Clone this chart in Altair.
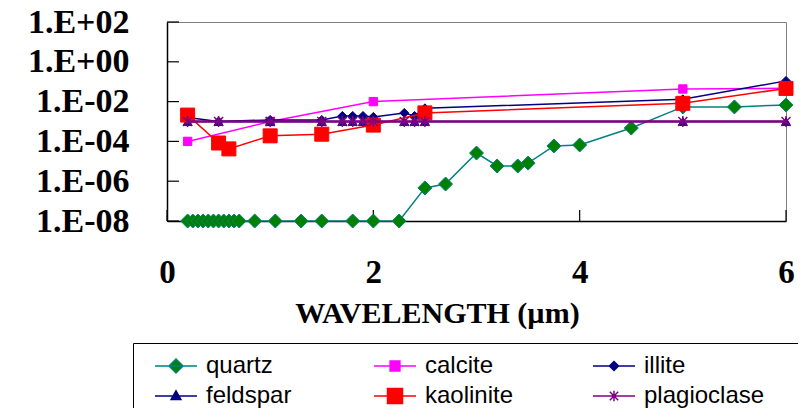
import altair as alt
import pandas as pd

series_names = ["quartz", "calcite", "illite", "feldspar", "kaolinite", "plagioclase"]
# legend fills column by column: column 1 = quartz/feldspar, 2 = calcite/kaolinite, 3 = illite/plagioclase
legend_order = ["quartz", "feldspar", "calcite", "kaolinite", "illite", "plagioclase"]

quartz_x = [0.2, 0.25, 0.3, 0.35, 0.4, 0.45, 0.5, 0.55, 0.6, 0.65, 0.7, 0.85, 1.05, 1.3, 1.5,
            1.8, 2.0, 2.25, 2.5, 2.7, 3.0, 3.2, 3.4, 3.5, 3.75, 4.0, 4.5, 5.0, 5.5, 6.0]
quartz_y = [1e-8, 1e-8, 1e-8, 1e-8, 1e-8, 1e-8, 1e-8, 1e-8, 1e-8, 1e-8, 1e-8, 1e-8, 1e-8, 1e-8, 1e-8,
            1e-8, 1e-8, 1e-8, 4.6e-7, 7.2e-7, 2.6e-5, 5.8e-6, 5.8e-6, 8.1e-6, 5.9e-5, 6.6e-5, 4.7e-4,
            5.4e-3, 5.4e-3, 6.8e-3]

calcite_x = [0.2, 1.0, 2.0, 5.0, 6.0]
calcite_y = [1.0e-4, 1.0e-3, 1.0e-2, 4.3e-2, 4.7e-2]

illite_x = [0.2, 0.5, 1.0, 1.5, 1.7, 1.8, 1.9, 2.0, 2.3, 2.4, 2.5, 5.0, 6.0]
illite_y = [1.6e-3, 1.0e-3, 1.2e-3, 1.2e-3, 1.9e-3, 1.9e-3, 1.9e-3, 1.7e-3, 2.7e-3, 1.9e-3, 4.6e-3,
            1.3e-2, 1.1e-1]

feldspar_x = [0.2, 0.5, 1.0, 1.5, 1.7, 1.8, 1.9, 2.0, 2.3, 2.4, 2.5, 5.0, 6.0]
feldspar_y = [1e-3, 1e-3, 1e-3, 1e-3, 1e-3, 1e-3, 1e-3, 1e-3, 1e-3, 1e-3, 1e-3, 1e-3, 1e-3]

kaolinite_x = [0.2, 0.5, 0.6, 1.0, 1.5, 2.0, 2.5, 5.0, 6.0]
kaolinite_y = [2.1e-3, 8.3e-5, 4.2e-5, 1.9e-4, 2.3e-4, 6.6e-4, 2.7e-3, 8.2e-3, 4.6e-2]

plagioclase_x = [0.2, 0.5, 1.0, 1.5, 1.7, 1.8, 1.9, 2.0, 2.3, 2.4, 2.5, 5.0, 6.0]
plagioclase_y = [1e-3, 1e-3, 1e-3, 1e-3, 1e-3, 1e-3, 1e-3, 1e-3, 1e-3, 1e-3, 1e-3, 1e-3, 1e-3]

x_ticks = [0, 2, 4, 6]
y_ticks = [1e-8, 1e-6, 1e-4, 1e-2, 1e0, 1e2]

all_x = [quartz_x, calcite_x, illite_x, feldspar_x, kaolinite_x, plagioclase_x]
all_y = [quartz_y, calcite_y, illite_y, feldspar_y, kaolinite_y, plagioclase_y]
rows = []
for name, xs, ys in zip(series_names, all_x, all_y):
    for a, b in zip(xs, ys):
        rows.append({"series": name, "x": a, "y": b})
df = pd.DataFrame(rows)

# styles
line_color = {"quartz": "#008080", "calcite": "#FF00FF", "illite": "#000080",
              "feldspar": "#000080", "kaolinite": "#FF0000", "plagioclase": "#800080"}
fill_color = {"quartz": "#008000", "calcite": "#FF00FF", "illite": "#000080",
              "feldspar": "#000080", "kaolinite": "#FF0000", "plagioclase": "transparent"}
line_width = {"quartz": 1.5, "calcite": 1.5, "illite": 1.5, "feldspar": 1.5,
              "kaolinite": 1.5, "plagioclase": 2.5}
marker_shape = {"quartz": "diamond", "calcite": "square", "illite": "diamond",
                "feldspar": "triangle-up", "kaolinite": "square",
                "plagioclase": "M-1,-1L1,1M-1,1L1,-1M0,-1.2V1.2"}
marker_size = {"quartz": 196, "calcite": 70, "illite": 81, "feldspar": 80,
               "kaolinite": 196, "plagioclase": 81}
# legend glyph: short line + marker; the trailing move-to only reserves entry width
entry_reserve = "M25,0"
legend_shape = {
    "quartz": "M-3,0H3M0,-1L1,0L0,1L-1,0Z" + entry_reserve,
    "calcite": "M-3,0H3M-0.7,-0.7H0.7V0.7H-0.7Z" + entry_reserve,
    "illite": "M-3,0H3M0,-0.65L0.65,0L0,0.65L-0.65,0Z" + entry_reserve,
    "feldspar": "M-3,0H3M0,-0.75L0.7,0.5L-0.7,0.5Z" + entry_reserve,
    "kaolinite": "M-3,0H3M-1.07,-1.07H1.07V1.07H-1.07Z" + entry_reserve,
    "plagioclase": "M-3,0H3M-0.6,-0.6L0.6,0.6M-0.6,0.6L0.6,-0.6M0,-0.75V0.75" + entry_reserve,
}

serif = "Liberation Serif"
exp_expr = "round(log(datum.value)/LN10)"
y_label_expr = ("'1.E' + (" + exp_expr + " >= 0 ? '+' : '-') + (abs(" + exp_expr +
                ") < 10 ? '0' : '') + abs(" + exp_expr + ")")

x_enc = alt.X("x:Q", scale=alt.Scale(domain=[0, 6], nice=False, zero=False),
              axis=alt.Axis(values=x_ticks, format="d", ticks=False, grid=False,
                            labelFont=serif, labelFontSize=33, labelFontWeight="bold",
                            labelColor="black", labelPadding=35, domainColor="black",
                            domainWidth=1.5, title="WAVELENGTH (µm)", titleFont=serif,
                            titleFontSize=30, titleFontWeight="bold", titleColor="black",
                            titleX=270, titleY=101, titleBaseline="alphabetic",
                            titleAlign="center", labelFlush=False))
y_enc = alt.Y("y:Q", scale=alt.Scale(type="log", domain=[1e-8, 1e2], nice=False),
              axis=alt.Axis(values=y_ticks, labelExpr=y_label_expr, ticks=False, grid=False,
                            labelFont=serif, labelFontSize=34, labelFontWeight="bold",
                            labelColor="black", labelPadding=38, domainColor="black",
                            domainWidth=1.5, title=None, labelFlush=False))

layers = []

ytick_df = pd.DataFrame({"y": y_ticks})
xtick_df = pd.DataFrame({"x": x_ticks})
layers.append(alt.Chart(ytick_df).mark_rule(color="black", strokeWidth=1.2).encode(
    y=y_enc, x=alt.value(0), x2=alt.value(12)))
layers.append(alt.Chart(xtick_df).mark_rule(color="black", strokeWidth=1.2).encode(
    x=x_enc, y=alt.value(199), y2=alt.value(188)))

for s in series_names:
    base = alt.Chart(df).transform_filter(alt.datum.series == s)
    layers.append(base.mark_line(color=line_color[s], strokeWidth=line_width[s]).encode(
        x=x_enc, y=y_enc))
    if s == "plagioclase":
        pts = base.mark_point(shape=marker_shape[s], size=marker_size[s], filled=False,
                              stroke=line_color[s], strokeWidth=1.5, opacity=1)
    else:
        pts = base.mark_point(shape=marker_shape[s], size=marker_size[s], filled=True,
                              fill=fill_color[s], stroke=line_color[s], strokeWidth=1,
                              opacity=1)
    layers.append(pts.encode(x=x_enc, y=y_enc))

leg = alt.Legend(orient="none", legendX=-34, legendY=321, columns=3, title=None,
                 symbolSize=196, symbolStrokeWidth=1.5, symbolOffset=20, labelOffset=18,
                 labelFont="Liberation Sans", labelFontSize=24, labelColor="black",
                 strokeColor="black", fillColor="white", padding=11, columnPadding=9,
                 rowPadding=6, gridAlign="all",
                 symbolOpacity=1, labelLimit=400)

legend_layer = alt.Chart(df).transform_filter("datum.x < -100").mark_point(
    filled=True, size=196, opacity=1).encode(
    x=x_enc, y=y_enc,
    fill=alt.Fill("series:N", scale=alt.Scale(domain=legend_order,
                                              range=[fill_color[s] for s in legend_order]),
                  legend=leg),
    stroke=alt.Stroke("series:N", scale=alt.Scale(domain=legend_order,
                                                  range=[line_color[s] for s in legend_order]),
                      legend=leg),
    shape=alt.Shape("series:N", scale=alt.Scale(domain=legend_order,
                                                range=[legend_shape[s] for s in legend_order]),
                    legend=leg),
)
layers.append(legend_layer)

chart = alt.layer(*layers).properties(
    width=619, height=199,
    autosize=alt.AutoSizeParams(type="none"),
    padding={"left": 159, "top": 14, "right": 12, "bottom": 187},
    background="white",
).configure_view(stroke="#808080", strokeWidth=1)

chart.save("out.html", embed_options={"renderer": "svg", "actions": False})
